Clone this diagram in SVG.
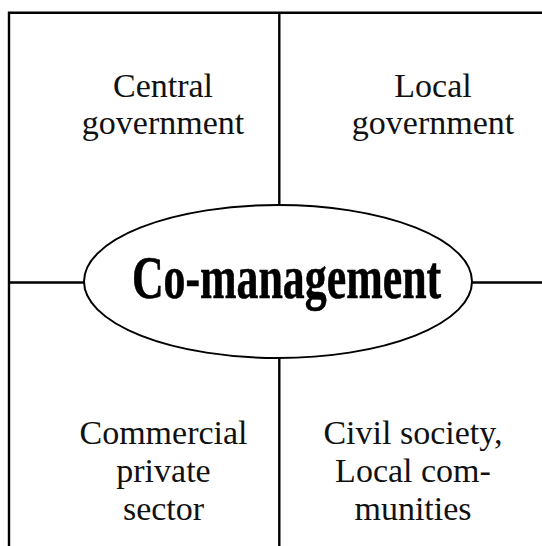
<svg xmlns="http://www.w3.org/2000/svg" width="542" height="546" viewBox="0 0 542 546">
<style>
.ln{stroke:#000;stroke-width:2.4;fill:none}
.lbl{font-family:"Liberation Serif","Times New Roman",serif;font-size:34px;fill:#111;text-anchor:middle}
.ctr{font-family:"Liberation Serif","Times New Roman",serif;font-size:62px;font-weight:bold;fill:#000;stroke:#000;stroke-width:0.6}
</style>
<rect width="542" height="546" fill="#fff"/>
<g id="connectors">
<path class="ln" d="M9,546 V12.7 H542"/>
<line class="ln" x1="279.3" y1="12.7" x2="279.3" y2="205"/>
<line class="ln" x1="279.3" y1="358" x2="279.3" y2="546"/>
<line class="ln" x1="9" y1="282.5" x2="84" y2="282.5"/>
<line class="ln" x1="472" y1="282.5" x2="542" y2="282.5"/>
</g>
<g id="central-government">
<text class="lbl" x="163" y="96.7">Central</text>
<text class="lbl" x="163" y="134">government</text>
</g>
<g id="local-government">
<text class="lbl" x="433" y="96.7">Local</text>
<text class="lbl" x="433" y="134">government</text>
</g>
<g id="commercial-private-sector">
<text class="lbl" x="163.5" y="443.5">Commercial</text>
<text class="lbl" x="163.5" y="481.5">private</text>
<text class="lbl" x="163.5" y="519.5">sector</text>
</g>
<g id="civil-society">
<text class="lbl" x="413" y="443.5">Civil society,</text>
<text class="lbl" x="413" y="481.5">Local com-</text>
<text class="lbl" x="413" y="519.5">munities</text>
</g>
<g id="co-management">
<ellipse cx="278" cy="281.5" rx="194" ry="76.5" fill="#fff" stroke="#000" stroke-width="2"/>
<text class="ctr" transform="translate(286.5,298) scale(0.707,1)" x="0" y="0" text-anchor="middle">Co-management</text>
</g>
</svg>
